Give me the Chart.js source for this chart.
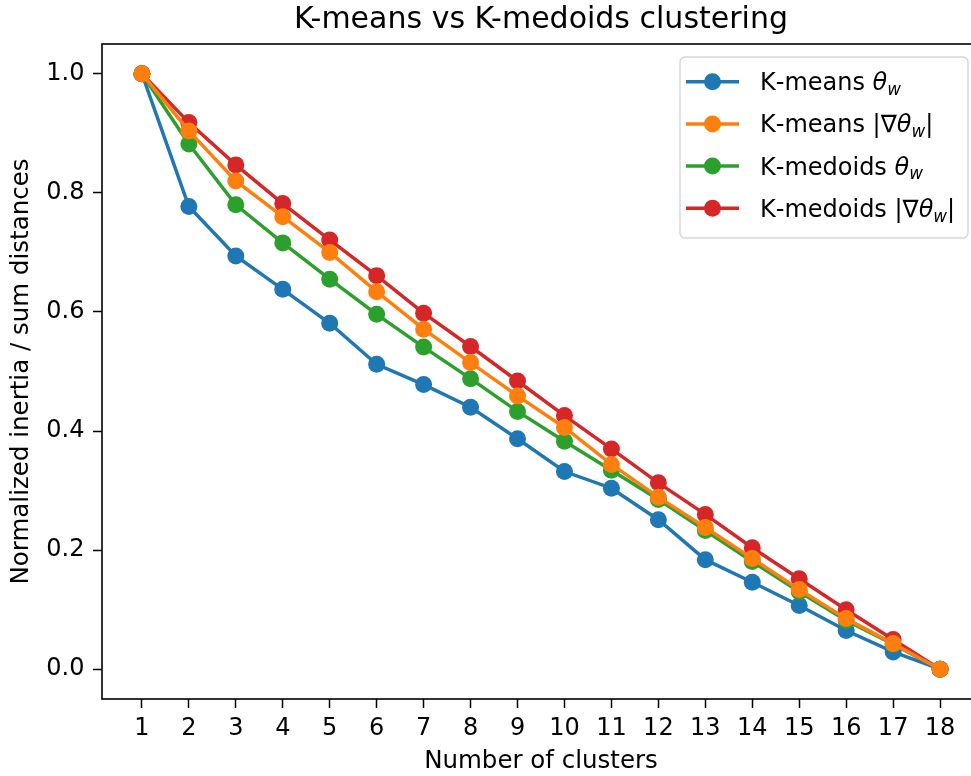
<!DOCTYPE html>
<html>
<head>
<meta charset="utf-8">
<title>K-means vs K-medoids clustering</title>
<script src="https://cdn.jsdelivr.net/npm/chart.js@4.4.1/dist/chart.umd.min.js"></script>
<style>
  html, body { margin: 0; padding: 0; background: #fff; overflow: hidden; }
  #wrap { width: 971px; height: 776px; overflow: hidden; }
</style>
</head>
<body>
<div id="wrap">
  <canvas id="clusterChart" width="990" height="776"></canvas>
</div>
<script>
// number of clusters on the x axis
const clusterCounts = [1, 2, 3, 4, 5, 6, 7, 8, 9, 10, 11, 12, 13, 14, 15, 16, 17, 18];

// normalized inertia / sum of distances per k
const kmeansTheta    = [1.0, 0.777, 0.694, 0.638, 0.581, 0.512, 0.478, 0.440, 0.387, 0.332, 0.304, 0.251, 0.184, 0.146, 0.107, 0.065, 0.029, 0.0];
const kmeansGrad     = [1.0, 0.904, 0.820, 0.760, 0.700, 0.634, 0.571, 0.515, 0.459, 0.406, 0.344, 0.289, 0.238, 0.186, 0.134, 0.085, 0.043, 0.0];
const kmedoidsTheta  = [1.0, 0.882, 0.780, 0.716, 0.655, 0.596, 0.541, 0.488, 0.433, 0.383, 0.334, 0.285, 0.233, 0.181, 0.130, 0.082, 0.042, 0.0];
const kmedoidsGrad   = [1.0, 0.918, 0.847, 0.782, 0.721, 0.661, 0.598, 0.542, 0.484, 0.426, 0.370, 0.313, 0.260, 0.204, 0.152, 0.100, 0.050, 0.0];

const yTicks = [0.0, 0.2, 0.4, 0.6, 0.8, 1.0];

const seriesLabels = ['K-means $θ_w$', 'K-means $|∇θ_w|$', 'K-medoids $θ_w$', 'K-medoids $|∇θ_w|$'];
const seriesColors = ['#1f77b4', '#ff7f0e', '#2ca02c', '#d62728'];
const seriesValues = [kmeansTheta, kmeansGrad, kmedoidsTheta, kmedoidsGrad];
// orange sits on top, then red, green, blue
const seriesOrder  = [3, 0, 2, 1];

const FONT = "'DejaVu Sans', sans-serif";

const datasets = seriesValues.map((vals, i) => ({
    label: seriesLabels[i],
    data: vals.map((v, j) => ({ x: clusterCounts[j], y: v })),
    borderColor: seriesColors[i],
    backgroundColor: seriesColors[i],
    borderWidth: 3.5,
    pointRadius: 8.5,
    pointHoverRadius: 8.5,
    pointBorderWidth: 0,
    tension: 0,
    fill: false,
    order: seriesOrder[i],
}));

// draws a label with the $...$ part in a small mathtext style
function drawMathLabel(ctx, text, x, y, size) {
    const parts = text.split('$');
    let cx = x;
    parts.forEach((part, idx) => {
        const math = idx % 2 === 1;
        for (let k = 0; k < part.length; k++) {
            let ch = part[k];
            let font = size + 'px ' + FONT;
            let dy = 0;
            if (math && ch === '_') {
                ch = part[++k];
                font = 'italic ' + (size * 0.7) + 'px ' + FONT;
                dy = size * 0.2;
            } else if (math && ch === 'θ') {
                font = 'italic ' + size + 'px ' + FONT;
            }
            ctx.font = font;
            ctx.fillText(ch, cx, y + dy);
            cx += ctx.measureText(ch).width;
        }
    });
}

// full box around the axes
const frame = {
    id: 'frame',
    afterDatasetsDraw(chart) {
        const { ctx, chartArea: a } = chart;
        ctx.save();
        ctx.strokeStyle = '#000';
        ctx.lineWidth = 1.6;
        ctx.strokeRect(a.left, a.top, a.right - a.left, a.bottom - a.top);
        ctx.restore();
    }
};

// legend box in the upper right corner
const boxLegend = {
    id: 'boxLegend',
    afterDraw(chart) {
        const ctx = chart.ctx;
        const left = 680, top = 57, w = 288, h = 181;
        ctx.save();
        ctx.beginPath();
        ctx.roundRect(left, top, w, h, 5);
        ctx.fillStyle = 'rgba(255,255,255,0.8)';
        ctx.fill();
        ctx.strokeStyle = 'rgba(204,204,204,0.8)';
        ctx.lineWidth = 1.4;
        ctx.stroke();

        chart.data.datasets.forEach((ds, i) => {
            const y = 81.7 + i * 42.2;
            ctx.strokeStyle = ds.borderColor;
            ctx.lineWidth = 3.5;
            ctx.beginPath();
            ctx.moveTo(686, y);
            ctx.lineTo(739, y);
            ctx.stroke();
            ctx.fillStyle = ds.backgroundColor;
            ctx.beginPath();
            ctx.arc(712.5, y, 8.5, 0, Math.PI * 2);
            ctx.fill();
            ctx.fillStyle = '#000';
            ctx.textBaseline = 'alphabetic';
            ctx.textAlign = 'left';
            drawMathLabel(ctx, ds.label, 760, y + 8.5, 24);
        });
        ctx.restore();
    }
};

new Chart(document.getElementById('clusterChart'), {
    type: 'line',
    data: { datasets: datasets },
    plugins: [frame, boxLegend],
    options: {
        responsive: false,
        animation: false,
        devicePixelRatio: 1,
        layout: { padding: { left: 0, right: 10, top: 0, bottom: 0 } },
        plugins: {
            legend: { display: false },
            tooltip: { enabled: false },
            title: {
                display: true,
                text: 'K-means vs K-medoids clustering',
                fullSize: false,
                color: '#000',
                font: { family: FONT, size: 30, weight: 'normal', lineHeight: 1.2 },
                padding: { top: 2, bottom: 6 },
            },
        },
        scales: {
            x: {
                type: 'linear',
                min: 0.15,
                max: 18.85,
                afterBuildTicks: axis => { axis.ticks = clusterCounts.map(v => ({ value: v })); },
                afterFit: axis => { axis.height = 77; },
                ticks: {
                    color: '#000',
                    font: { family: FONT, size: 24, lineHeight: 1.2 },
                    padding: 6,
                    maxRotation: 0,
                    autoSkip: false,
                    callback: v => String(v),
                },
                grid: { drawOnChartArea: false, drawTicks: true, tickLength: 9, tickColor: '#000', tickWidth: 1.5 },
                border: { display: false },
                title: {
                    display: true,
                    text: 'Number of clusters',
                    color: '#000',
                    font: { family: FONT, size: 24.5, lineHeight: 1.2 },
                    padding: { top: 4, bottom: 0 },
                },
            },
            y: {
                type: 'linear',
                min: -0.05,
                max: 1.05,
                afterBuildTicks: axis => { axis.ticks = yTicks.map(v => ({ value: v })); },
                afterFit: axis => { axis.width = 102; },
                ticks: {
                    color: '#000',
                    font: { family: FONT, size: 24, lineHeight: 1.2 },
                    padding: 8.5,
                    callback: v => v.toFixed(1),
                },
                grid: { drawOnChartArea: false, drawTicks: true, tickLength: 9, tickColor: '#000', tickWidth: 1.5 },
                border: { display: false },
                title: {
                    display: true,
                    text: 'Normalized inertia / sum distances',
                    color: '#000',
                    font: { family: FONT, size: 24.5, lineHeight: 1.2 },
                    padding: { top: 6.7, bottom: 0 },
                },
            },
        },
    },
});
</script>
</body>
</html>
